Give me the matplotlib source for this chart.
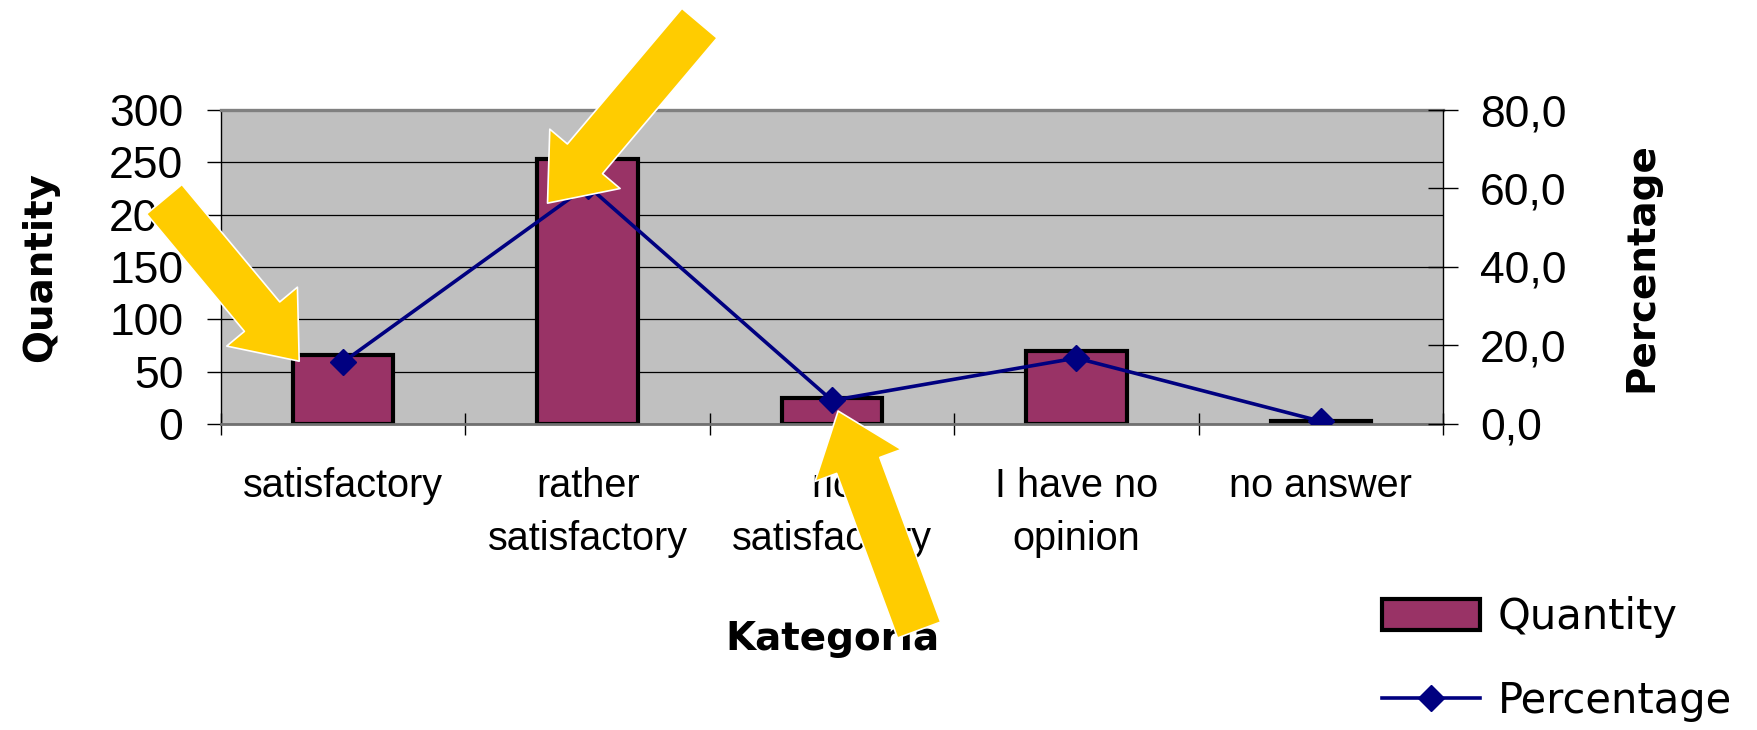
import matplotlib
matplotlib.use('Agg')
import matplotlib.pyplot as plt
import numpy as np

# ---- data ----
categories = ["satisfactory", "rather\nsatisfactory", "ric\nsatisfactory",
              "I have no\nopinion", "no answer"]
quantity = [66, 253, 25, 70, 3]
percentage = [15.8, 60.7, 6.0, 16.8, 0.7]
left_ticks = [0, 50, 100, 150, 200, 250, 300]
right_ticks = [0, 20, 40, 60, 80]
right_tick_labels = ["0,0", "20,0", "40,0", "60,0", "80,0"]

plt.rcParams['font.family'] = ['Liberation Sans', 'DejaVu Sans']

W, H = 1758, 730
fig = plt.figure(figsize=(W / 100, H / 100), dpi=100)
ax = fig.add_axes([221 / W, 1 - 424 / H, 1222 / W, 314 / H])
ax.set_facecolor('#C0C0C0')

x = np.arange(len(categories))
bars = ax.bar(x, quantity, width=0.41, color='#993366', edgecolor='black',
              linewidth=3.0, zorder=2, label='Quantity')
ax.set_xlim(-0.5, len(categories) - 0.5)
ax.set_ylim(0, 300)
ax.set_yticks(left_ticks)
ax.yaxis.grid(True, color='black', linewidth=0.9)
ax.set_axisbelow(True)

ax.set_xticks(x)
ax.set_xticklabels(categories, linespacing=1.5)
ax.set_xticks(np.arange(-0.5, len(categories), 1.0), minor=True)
ax.tick_params(axis='x', which='major', length=0, pad=31, labelsize=28.5)
ax.tick_params(axis='x', which='minor', direction='inout', length=16.5,
               width=1, color='black')
ax.tick_params(axis='y', direction='out', length=10, width=1, pad=17,
               labelsize=32)

ax.spines['right'].set_visible(False)
ax.spines['top'].set_color('#808080')
ax.spines['top'].set_linewidth(2.4)
ax.spines['bottom'].set_color('#707070')
ax.spines['bottom'].set_linewidth(2.0)
ax.spines['left'].set_color('black')
ax.spines['left'].set_linewidth(1.0)

ax2 = ax.twinx()
line, = ax2.plot(x, percentage, color='#000080', lw=2.6, marker='D',
                 markersize=13, zorder=3, label='Percentage')
ax2.set_ylim(0, 80)
ax2.set_yticks(right_ticks)
ax2.set_yticklabels(right_tick_labels)
ax2.tick_params(axis='y', direction='inout', length=21, width=1, pad=16,
                labelsize=32)
for side in ['top', 'bottom', 'left']:
    ax2.spines[side].set_visible(False)
ax2.spines['right'].set_color('black')
ax2.spines['right'].set_linewidth(1.0)

lab_font = dict(family='DejaVu Sans', weight='bold', size=28)
ax.set_ylabel('Quantity', va='center', **lab_font)
ax.yaxis.set_label_coords(-0.148, 0.5)
ax2.set_ylabel('Percentage', va='center', rotation=90, **lab_font)
ax2.yaxis.set_label_coords(1.162, 0.5)
ax.set_xlabel('Kategoria', va='center', **lab_font)
ax.xaxis.set_label_coords(0.5, -0.685)

# ---- yellow callout arrows ----
arrow_style = 'simple,head_length=5.8,head_width=9.2,tail_width=4.6'
arrows = [((0 - 0.18, 60), (-135, 162)),
          ((0.836, 211), (152, 180)),
          ((2.025, 12.4), (81, -219))]
for tip, off in arrows:
    ax2.annotate('', xy=tip, xycoords=ax.transData, xytext=off,
                 textcoords='offset pixels', annotation_clip=False,
                 arrowprops=dict(arrowstyle=arrow_style, mutation_scale=7.2,
                                 fc='#FFCC00', ec='white', lw=1.2,
                                 shrinkA=0, shrinkB=0), zorder=5)

fig.legend([bars, line], ['Quantity', 'Percentage'], loc='upper left',
           bbox_to_anchor=(1382 / W, 1 - 596 / H), frameon=False,
           borderpad=0, borderaxespad=0, handlelength=2.35,
           handleheight=0.77, handletextpad=0.43, labelspacing=1.0,
           prop={'family': 'DejaVu Sans', 'size': 30})

fig.savefig('out.png', dpi=100)
